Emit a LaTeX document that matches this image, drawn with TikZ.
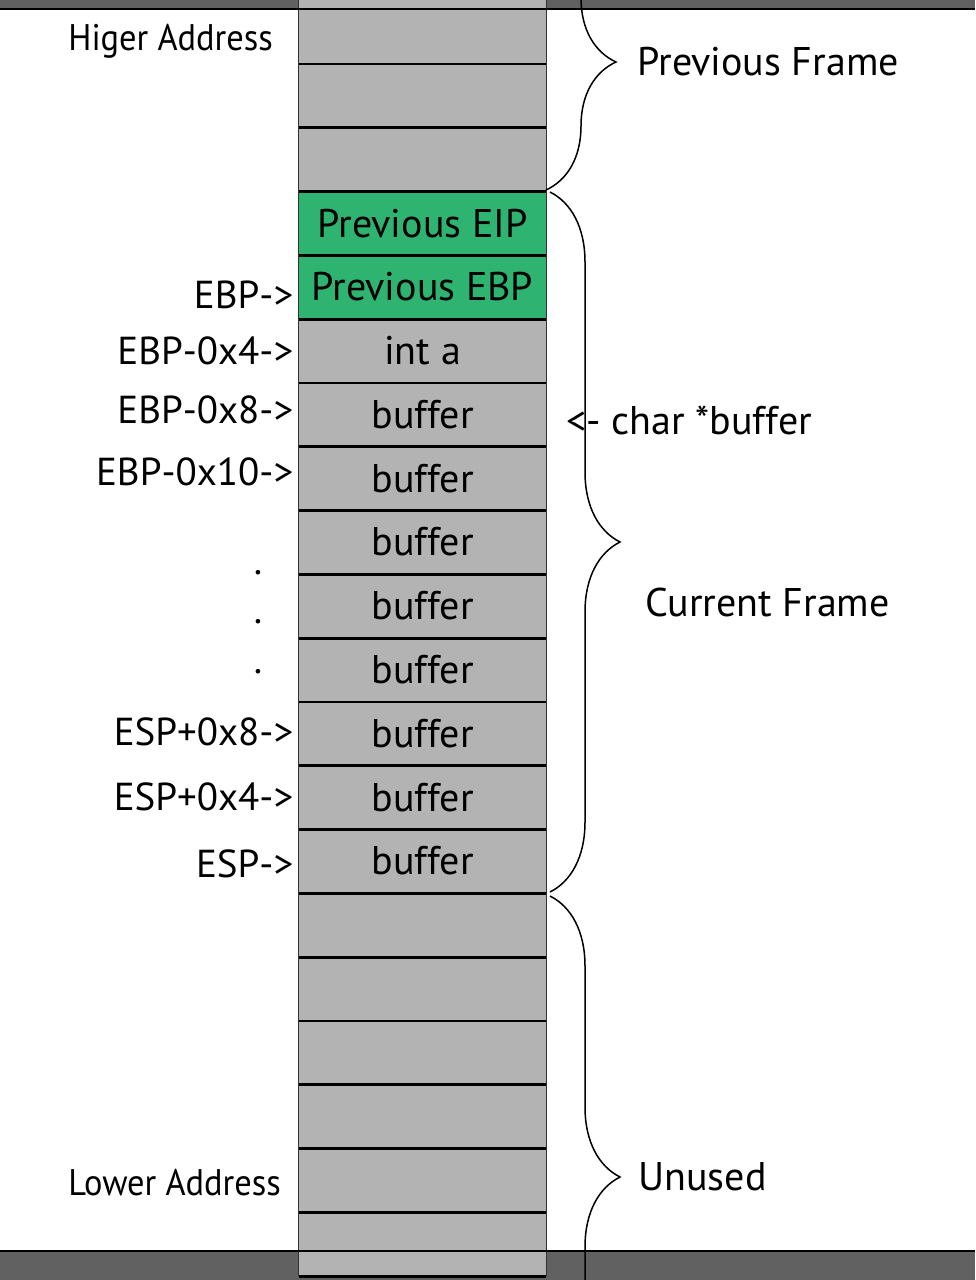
\documentclass[tikz,border=0pt]{standalone}
\usepackage{fontspec}
\setmainfont{PT Sans}
\newfontfamily\narrowfont[FakeStretch=0.93]{PT Sans}
\usetikzlibrary{positioning}
\usetikzlibrary{decorations.pathreplacing}

\definecolor{cellgray}{RGB}{179,179,179}
\definecolor{savedgreen}{RGB}{46,179,112}
\definecolor{bandgray}{RGB}{97,97,97}

\tikzset{
 cell/.style={fill=cellgray, minimum width=123.5pt, minimum height=31.9pt, inner sep=0, anchor=north, font=\fontsize{20}{20}\selectfont},
 saved/.style={cell, fill=savedgreen},
 sep/.style={black, line width=1.4pt},
 colside/.style={black!80, line width=0.8pt},
 addr/.style={inner sep=0, font=\fontsize{19.5}{20}\selectfont},
 endlabel/.style={inner sep=0, anchor=west, font=\narrowfont\fontsize{18.5}{19}\selectfont},
 framelabel/.style={inner sep=0, font=\fontsize{20}{20}\selectfont},
 framebrace/.style={decorate, decoration={brace, amplitude=35pt}, line width=0.75pt},
}

\begin{document}
\begin{tikzpicture}[x=0.5pt, y=-0.5pt]
\clip (0,0) rectangle (975,1280);
\fill[bandgray] (0,-20) rectangle (975,9);
\fill[bandgray] (0,1251) rectangle (975,1300);
\foreach \i/\kind/\txt in {1/cell/,2/cell/,3/cell/,4/saved/Previous EIP,5/saved/Previous EBP,6/cell/int a,
  7/cell/buffer,8/cell/buffer,9/cell/buffer,10/cell/buffer,11/cell/buffer,12/cell/buffer,13/cell/buffer,14/cell/buffer,
  15/cell/,16/cell/,17/cell/,18/cell/,19/cell/,20/cell/} {
 \node[\kind] (c\i) at (422.5,{-0.6+63.8*(\i-1)}) {\txt};
}
\foreach \i in {1,...,20} {
 \draw[sep] (c\i.south west) -- (c\i.south east);
}
\draw[colside] (c1.north west) -- (c20.south west);
\draw[colside] (c1.north east) -- (c20.south east);
\draw[black, line width=1.2pt] (0,9) -- (975,9);
\draw[black, line width=1.2pt] (0,1251) -- (975,1251);

\foreach \i/\txt/\dy in {5/EBP->/-4,6/EBP-0x4->/0,7/EBP-0x8->/2.5,8/EBP-0x10->/3,12/ESP+0x8->/1,13/ESP+0x4->/0,14/ESP->/-1.5} {
 \node[addr, left=2.5pt of c\i, yshift=\dy pt] (l\i) {\txt};
}
\foreach \d/\y in {1/574,2/623,3/673} {
 \node[addr, anchor=base] (dot\d) at (258,\y) {.};
}
\node[endlabel] (high) at (68,41) {Higer Address};
\node[endlabel] (low) at (68,1183) {Lower Address};

\draw[framebrace] (546,-66) -- (546,190);
\draw[framebrace] (550,192) -- (550,892);
\draw[framebrace] (550,896) -- (550,1458);
\coordinate (prevtip) at (617,62);
\coordinate (curtip) at (621,542);
\coordinate (unusedtip) at (621,1177);
\node[framelabel, right=10pt of prevtip] (prev) {Previous Frame};
\node[framelabel, right=12pt of curtip, yshift=-30pt] (cur) {Current Frame};
\node[framelabel, right=8.5pt of unusedtip] (unused) {Unused};
\node[framelabel, anchor=west] (ptr) at (566,420) {<- char *buffer};
\end{tikzpicture}
\end{document}
